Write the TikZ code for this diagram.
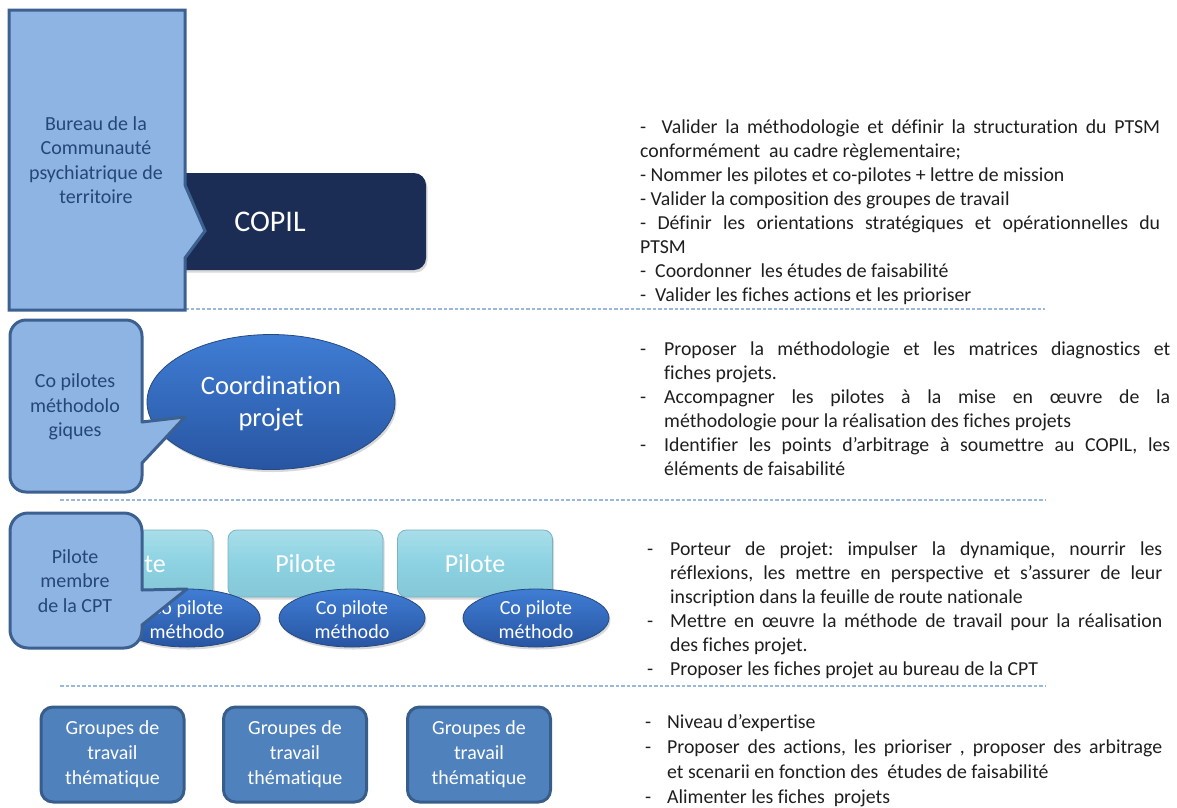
\documentclass[tikz,border=0pt]{standalone}
\usepackage{fontspec}
\setmainfont{Carlito}[Ligatures={TeX,NoCommon}]
\usetikzlibrary{shapes.geometric,shadows}

\definecolor{calloutfill}{HTML}{8EB4E3}
\definecolor{calloutline}{HTML}{3C6190}
\definecolor{callouttext}{HTML}{24477A}
\definecolor{copilfill}{HTML}{1B2D55}
\definecolor{ovaltop}{HTML}{3F7DD4}
\definecolor{ovalbottom}{HTML}{2855A2}
\definecolor{ovalline}{HTML}{26497F}
\definecolor{pilotefill}{HTML}{8CD2E2}
\definecolor{piloteline}{HTML}{78B2C3}
\definecolor{groupfill}{HTML}{4F81BD}
\definecolor{groupline}{HTML}{385D8A}
\definecolor{sepline}{HTML}{9AB8DD}
\definecolor{bodytext}{HTML}{1E1E1E}

\newlength\dashgap
\newcommand\dashitem{\par\hangindent=\dashgap\hangafter=1\noindent\makebox[\dashgap][l]{-}}
\newcommand\bodysetup{\frenchspacing\hyphenpenalty=10000\exhyphenpenalty=10000\tolerance=9000\emergencystretch=30pt}

\tikzset{
  callout/.style={fill=calloutfill, draw=calloutline, line width=3pt},
  callouttxt/.style={text=callouttext, align=center, inner sep=0pt,
    font=\fontsize{20}{24.5}\selectfont},
  separator/.style={draw=sepline, line width=1.1pt, dash pattern=on 3.5pt off 2pt},
  softshadow/.style={drop shadow={opacity=0.3, shadow xshift=1.5pt, shadow yshift=-2.5pt}},
  copilbox/.style={rectangle, rounded corners=12pt, fill=copilfill, softshadow,
    minimum width=312pt, minimum height=97pt, text=white,
    font=\fontsize{30}{36}\selectfont},
  ovalbox/.style={ellipse, top color=ovaltop, bottom color=ovalbottom,
    draw=ovalline, line width=0.8pt, inner sep=0pt, softshadow},
  ovaltxt/.style={text=white, align=center, inner sep=0pt},
  pilotebox/.style={rectangle, rounded corners=9pt,
    top color=pilotefill!75!white, bottom color=pilotefill!95!black,
    middle color=pilotefill, draw=piloteline, line width=0.8pt, softshadow,
    minimum width=155pt, minimum height=67pt, text=white,
    font=\fontsize{26}{30}\selectfont},
  groupbox/.style={rectangle, rounded corners=12pt, fill=groupfill,
    draw=groupline, line width=3pt, minimum width=143pt, minimum height=95pt,
    text=white, align=center, inner sep=0pt, font=\fontsize{20}{25}\selectfont},
  bodyblock/.style={anchor=base west, inner sep=0pt, text=bodytext,
    font=\fontsize{19.8}{24}\selectfont},
}

\begin{document}
\begin{tikzpicture}[x=1pt,y=-1pt]
\useasboundingbox (0,0) rectangle (1177,807);

% level separators
\draw[separator] (185,309) -- (1045,309);
\draw[separator] (60,500) -- (1045,500);
\draw[separator] (60,686) -- (1045,686);

% COPIL and the territorial bureau
\node[copilbox] (copil) at (270,221.5) {COPIL};
\path[callout, line join=miter]
  (9,10) -- (185,10) -- (185,185) -- (205,231) -- (185,258)
  -- (185,310) -- (9,310) -- cycle;
\node[callouttxt] (bureau) at (96,160)
  {Bureau de la\\Communauté\\psychiatrique de\\territoire};

% project coordination
\node[ovalbox, minimum width=248pt, minimum height=135pt] (coord) at (271,402) {};
\node[ovaltxt, font=\fontsize{26.5}{32}\selectfont] (coordtxt) at (271,404)
  {Coordination\\projet};
\path[callout, line join=round]
  (185,417) -- (142,422) -- (142,336) arc[start angle=0, end angle=90, radius=16pt]
  -- (26,320) arc[start angle=90, end angle=180, radius=16pt]
  -- (10,476) arc[start angle=180, end angle=270, radius=16pt]
  -- (126,492) arc[start angle=270, end angle=360, radius=16pt]
  -- (142,463) -- cycle;
\node[callouttxt] (copilotes) at (75,407) {Co pilotes\\méthodolo\\giques};

% pilots and methodological co-pilots
\node[pilotebox] (pilote1) at (135.5,563.5) {Pilote};
\node[pilotebox] (pilote2) at (305.5,563.5) {Pilote};
\node[pilotebox] (pilote3) at (475,563.5) {Pilote};
\foreach \i/\x in {1/187, 2/352, 3/536}{
  \node[ovalbox, minimum width=146pt, minimum height=58pt] (copilote\i) at (\x,618) {};
  \node[ovaltxt, font=\fontsize{20}{24}\selectfont] (copilote\i txt) at (\x,620)
    {Co pilote\\méthodo};
}
\path[callout, line join=round]
  (187,589) -- (142,590) -- (142,531) arc[start angle=0, end angle=90, radius=18pt]
  -- (28,513) arc[start angle=90, end angle=180, radius=18pt]
  -- (10,630) arc[start angle=180, end angle=270, radius=18pt]
  -- (124,648) arc[start angle=270, end angle=360, radius=18pt]
  -- (142,625) -- cycle;
\node[callouttxt] (pilotecpt) at (75,581) {Pilote\\membre\\de la CPT};

% thematic working groups
\node[groupbox] (groupe1) at (112.5,754.5) {Groupes de\\travail\\thématique};
\node[groupbox] (groupe2) at (295,754.5) {Groupes de\\travail\\thématique};
\node[groupbox] (groupe3) at (479,754.5) {Groupes de\\travail\\thématique};

% missions of each level
\node[bodyblock] (copiltasks) at (640,133) {\parbox[t]{520pt}{\bodysetup
-\ \ Valider la méthodologie et définir la structuration du PTSM\linebreak
conformément\ \ au cadre règlementaire;\par
- Nommer les pilotes et co-pilotes + lettre de mission\par
- Valider la composition des groupes de travail\par
- Définir les orientations stratégiques et opérationnelles du\linebreak
PTSM\par
-\ \ Coordonner\ \ les études de faisabilité\par
-\ \ Valider les fiches actions et les prioriser}};

\node[bodyblock] (coordtasks) at (640,355) {\parbox[t]{530pt}{\bodysetup
\setlength\dashgap{24pt}%
\dashitem Proposer la méthodologie et les matrices diagnostics et\linebreak
fiches projets.
\dashitem Accompagner les pilotes à la mise en œuvre de la\linebreak
méthodologie pour la réalisation des fiches projets
\dashitem Identifier les points d’arbitrage à soumettre au COPIL, les\linebreak
éléments de faisabilité}};

\node[bodyblock] (pilotetasks) at (647,555) {\parbox[t]{515pt}{\bodysetup
\setlength\dashgap{23pt}%
\dashitem Porteur de projet: impulser la dynamique, nourrir les\linebreak
réflexions, les mettre en perspective et s’assurer de leur\linebreak
inscription dans la feuille de route nationale
\dashitem Mettre en œuvre la méthode de travail pour la réalisation\linebreak
des fiches projet.
\dashitem Proposer les fiches projet au bureau de la CPT}};

\node[bodyblock, font=\fontsize{19.8}{25}\selectfont] (groupetasks) at (645,728)
  {\parbox[t]{517pt}{\bodysetup
\setlength\dashgap{22pt}%
\dashitem Niveau d’expertise
\dashitem Proposer des actions, les prioriser , proposer des arbitrage\linebreak
et scenarii en fonction des\ \ études de faisabilité
\dashitem Alimenter les fiches\ \ projets}};

\end{tikzpicture}
\end{document}
